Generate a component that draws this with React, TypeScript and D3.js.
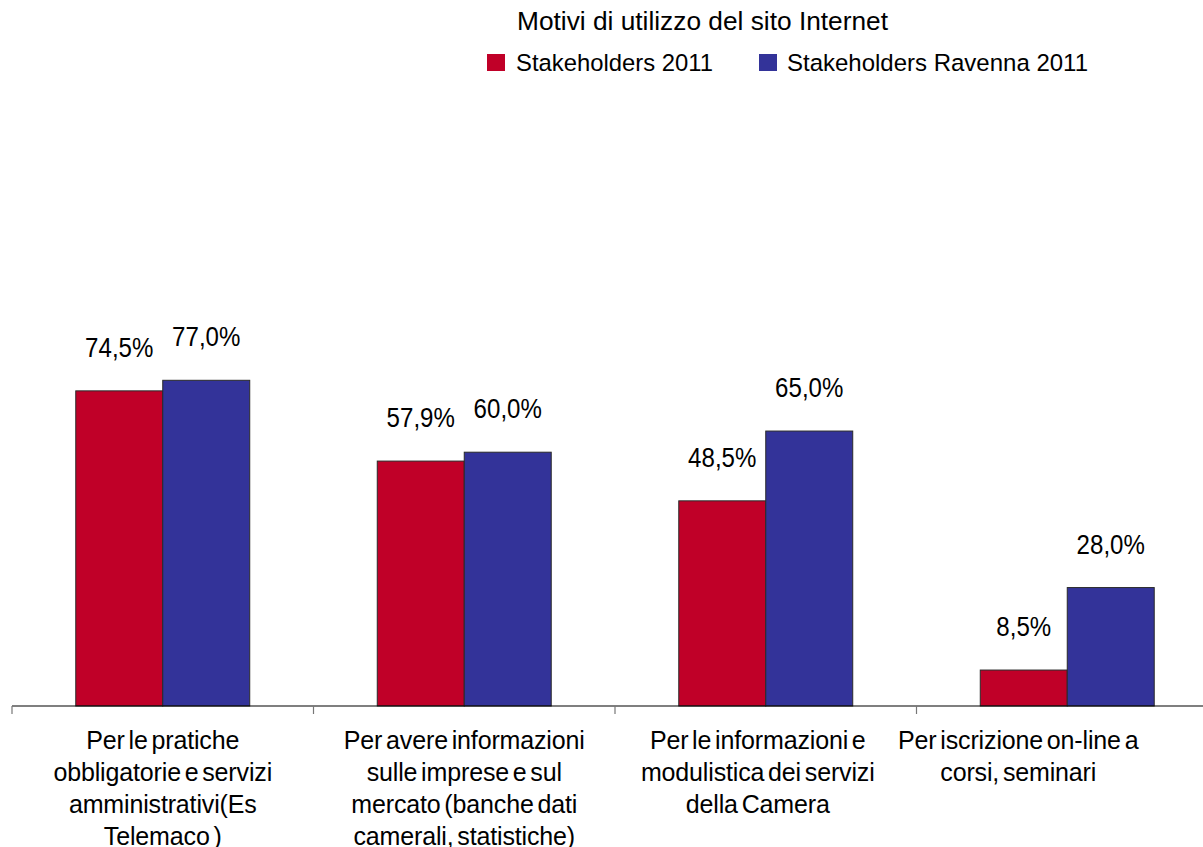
import React from "react";
import * as d3 from "d3";

const title = "Motivi di utilizzo del sito Internet";
const seriesNames = ["Stakeholders 2011", "Stakeholders Ravenna 2011"];
const seriesColors = ["#C00028", "#333399"];
const categories = [
  ["Per le pratiche", "obbligatorie e servizi", "amministrativi(Es", "Telemaco )"],
  ["Per avere informazioni", "sulle imprese e sul", "mercato (banche dati", "camerali, statistiche)"],
  ["Per le informazioni e", "modulistica dei servizi", "della Camera"],
  ["Per iscrizione on-line a", "corsi, seminari"],
];
const stakeholders2011 = [74.5, 57.9, 48.5, 8.5];
const ravenna2011 = [77.0, 60.0, 65.0, 28.0];
const valueLabels = [
  ["74,5%", "57,9%", "48,5%", "8,5%"],
  ["77,0%", "60,0%", "65,0%", "28,0%"],
];

const W = 1203;
const H = 847;
const baseY = 706;
const labelShift = [0, 0, -8, -49];

export default function App() {
  const catIds = categories.map((_, i) => String(i));
  const x0 = d3.scaleBand<string>().domain(catIds).range([12, 1218]).padding(0);
  const x1 = d3
    .scaleBand<string>()
    .domain(seriesNames)
    .range([0, x0.bandwidth()])
    .paddingInner(0)
    .paddingOuter(0.733);
  const y = d3.scaleLinear().domain([0, 100]).range([baseY, 283]);
  const series = [stakeholders2011, ravenna2011];

  return (
    <div style={{ position: "absolute", left: 0, top: 0 }}>
      <svg width={W} height={H} style={{ display: "block", background: "#fff" }} fontFamily="'Liberation Sans', Arial, sans-serif">
        {/* title */}
        <text x={517} y={30} fontSize={25} textLength={371} lengthAdjust="spacingAndGlyphs" fill="#000">
          {title}
        </text>
        {/* legend */}
        <rect x={487} y={54} width={18} height={17} fill={seriesColors[0]} />
        <text x={516} y={71} fontSize={24.5} textLength={197} lengthAdjust="spacingAndGlyphs" fill="#000">
          {seriesNames[0]}
        </text>
        <rect x={759} y={54} width={18} height={17} fill={seriesColors[1]} />
        <text x={787} y={71} fontSize={24.5} textLength={301} lengthAdjust="spacingAndGlyphs" fill="#000">
          {seriesNames[1]}
        </text>

        {/* bars */}
        {catIds.map((c, ci) => (
          <g key={c} transform={`translate(${x0(c)},0)`}>
            {seriesNames.map((s, si) => {
              const v = series[si][ci];
              const bx = x1(s)!;
              const by = y(v);
              return (
                <g key={s}>
                  <rect
                    x={bx}
                    y={by}
                    width={x1.bandwidth()}
                    height={baseY - by}
                    fill={seriesColors[si]}
                    stroke="#2a2a2a"
                    strokeWidth={1}
                  />
                  <text
                    transform={`translate(${bx + x1.bandwidth() / 2},${by - 34}) scale(0.86,1)`}
                    textAnchor="middle"
                    fontSize={28}
                    fill="#000"
                  >
                    {valueLabels[si][ci]}
                  </text>
                </g>
              );
            })}
          </g>
        ))}

        {/* axis */}
        <line x1={12} x2={W} y1={baseY} y2={baseY} stroke="#000" strokeWidth={1.2} />
        {catIds.map((c) => (
          <line key={c} x1={x0(c)!} x2={x0(c)!} y1={baseY} y2={baseY + 8} stroke="#777" strokeWidth={1.2} />
        ))}

        {/* category labels */}
        {catIds.map((c, ci) => (
          <text
            key={c}
            textAnchor="middle"
            fontSize={25}
            wordSpacing={-3}
            letterSpacing={-0.15}
            fill="#000"
          >
            {categories[ci].map((line, li) => (
              <tspan key={li} x={x0(c)! + x0.bandwidth() / 2 + labelShift[ci]} y={749 + li * 32}>
                {line}
              </tspan>
            ))}
          </text>
        ))}
      </svg>
    </div>
  );
}
